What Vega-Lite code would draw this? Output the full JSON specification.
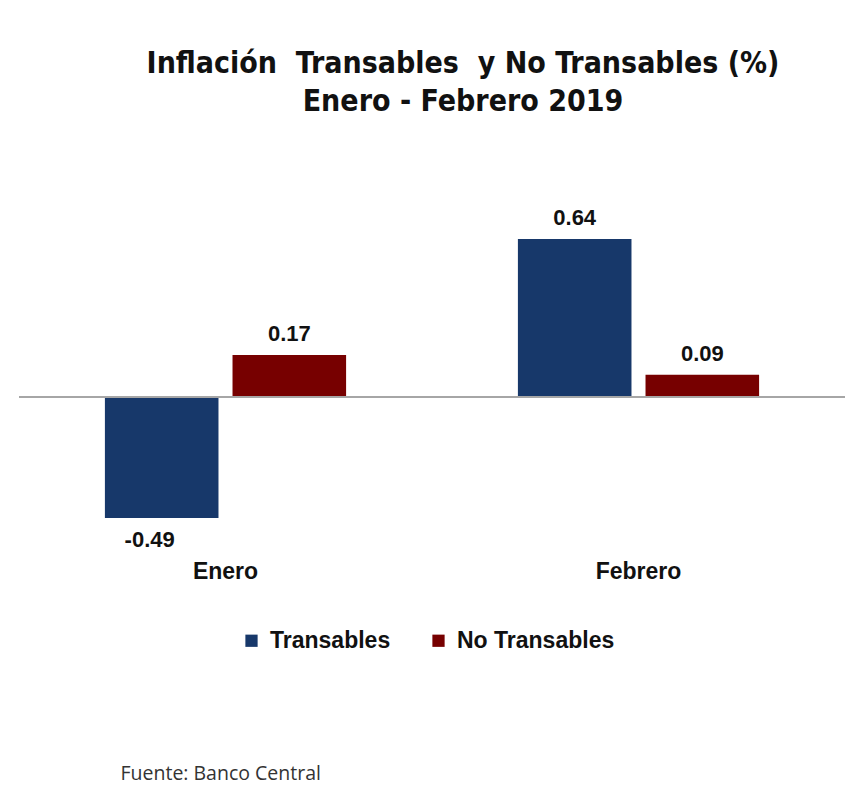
{
  "$schema": "https://vega.github.io/schema/vega-lite/v6.json",
  "autosize": "none",
  "width": 826,
  "height": 395.2,
  "padding": {"left": 19, "top": 150, "right": 23, "bottom": 241.8},
  "background": "white",
  "config": {
    "view": {"stroke": null},
    "locale": {
      "number": {"decimal": ".", "thousands": ",", "grouping": [3], "currency": ["$", ""], "minus": "-"}
    }
  },
  "title": {
    "text": ["Inflación \u00a0Transables \u00a0y No Transables (%)", "Enero - Febrero 2019"],
    "font": "DejaVu Sans Condensed",
    "fontSize": 30,
    "fontWeight": "bold",
    "color": "#111111",
    "anchor": "middle",
    "dx": 31,
    "lineHeight": 38,
    "offset": 33
  },
  "data": {
    "values": [
      {"mes": "Enero", "serie": "Transables", "valor": -0.49},
      {"mes": "Enero", "serie": "No Transables", "valor": 0.17},
      {"mes": "Febrero", "serie": "Transables", "valor": 0.64},
      {"mes": "Febrero", "serie": "No Transables", "valor": 0.09}
    ]
  },
  "encoding": {
    "x": {
      "field": "mes",
      "type": "nominal",
      "sort": ["Enero", "Febrero"],
      "scale": {"paddingInner": 0.416, "paddingOuter": 0.208},
      "axis": {
        "title": "Fuente: Banco Central",
        "titleFont": "Open Sans",
        "titleFontSize": 19.5,
        "titleFontWeight": "normal",
        "titleColor": "#333333",
        "titleAnchor": "start",
        "titleAlign": "left",
        "titleX": 101,
        "titleY": 219,
        "labelAngle": 0,
        "labelFont": "Liberation Sans",
        "labelFontSize": 23,
        "labelFontWeight": "bold",
        "labelColor": "#111111",
        "labelPadding": 15,
        "domain": false,
        "ticks": false,
        "grid": false
      }
    },
    "xOffset": {"field": "serie", "type": "nominal", "sort": ["Transables", "No Transables"], "scale": {"paddingInner": 0.11}},
    "y": {
      "field": "valor",
      "type": "quantitative",
      "scale": {"domain": [-0.6, 1.0], "nice": false, "zero": true},
      "axis": null
    }
  },
  "layer": [
    {
      "mark": {"type": "bar"},
      "encoding": {
        "color": {
          "field": "serie",
          "type": "nominal",
          "sort": ["Transables", "No Transables"],
          "scale": {"domain": ["Transables", "No Transables"], "range": ["#17386a", "#770000"]},
          "legend": {
            "title": null,
            "orient": "none",
            "direction": "horizontal",
            "legendX": 221,
            "legendY": 479,
            "symbolType": "square",
            "symbolSize": 150,
            "symbolStrokeWidth": 0,
            "labelFont": "Liberation Sans",
            "labelFontSize": 23,
            "labelFontWeight": "bold",
            "labelColor": "#111111",
            "labelOffset": 7,
            "columnPadding": 36
          }
        }
      }
    },
    {
      "mark": {"type": "rule", "color": "#a6a6a6", "strokeWidth": 2},
      "encoding": {"y": {"datum": 0}, "x": {}, "xOffset": {}}
    },
    {
      "transform": [{"filter": "datum.valor >= 0"}],
      "mark": {"type": "text", "baseline": "bottom", "dy": -9, "font": "Liberation Sans", "fontSize": 22, "fontWeight": "bold", "color": "#111111"},
      "encoding": {"text": {"field": "valor", "type": "quantitative", "format": ".2f"}}
    },
    {
      "transform": [{"filter": "datum.valor < 0"}],
      "mark": {"type": "text", "baseline": "top", "dy": 12, "dx": -12, "font": "Liberation Sans", "fontSize": 22, "fontWeight": "bold", "color": "#111111"},
      "encoding": {"text": {"field": "valor", "type": "quantitative", "format": ".2f"}}
    }
  ]
}
